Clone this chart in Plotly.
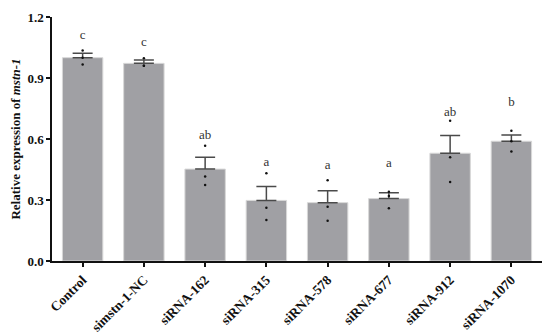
import plotly.graph_objects as go

categories = ["Control", "simstn-1-NC", "siRNA-162", "siRNA-315", "siRNA-578", "siRNA-677", "siRNA-912", "siRNA-1070"]
means = [1.0, 0.972, 0.452, 0.298, 0.287, 0.307, 0.53, 0.589]
sem = [0.022, 0.017, 0.058, 0.069, 0.059, 0.029, 0.087, 0.031]
replicates = [
    [1.035, 1.0, 0.967],
    [0.997, 0.96, 0.96],
    [0.567, 0.415, 0.374],
    [0.431, 0.262, 0.202],
    [0.397, 0.267, 0.198],
    [0.341, 0.259, 0.32],
    [0.69, 0.51, 0.389],
    [0.641, 0.589, 0.538],
]
letters = ["c", "c", "ab", "a", "a", "a", "ab", "b"]
letter_y = [1.107, 1.074, 0.615, 0.484, 0.467, 0.476, 0.73, 0.78]
y_ticks = [0.0, 0.3, 0.6, 0.9, 1.2]

FONT = "Liberation Serif, Times New Roman, serif"

fig = go.Figure()
fig.add_trace(go.Bar(
    x=categories, y=means,
    marker=dict(color="#a0a0a4", line=dict(color="#d8d8d8", width=1)),
    width=0.66,
    error_y=dict(type="data", array=sem, arrayminus=[0]*len(sem), symmetric=False,
                 color="#4a4a4a", thickness=1.5, width=10),
    showlegend=False, hoverinfo="skip",
))
dx, dy = [], []
for c, reps in zip(categories, replicates):
    for r in reps:
        dx.append(c)
        dy.append(r)
fig.add_trace(go.Scatter(x=dx, y=dy, mode="markers", hoverinfo="skip",
                         marker=dict(color="#111111", size=2.5), showlegend=False))
fig.add_trace(go.Scatter(x=categories, y=letter_y, mode="text", text=letters, hoverinfo="skip",
                         textfont=dict(family=FONT, size=13, color="#333333"),
                         textposition="middle center", showlegend=False))

fig.update_layout(
    width=550, height=333,
    margin=dict(l=52, r=8, t=17, b=72),
    plot_bgcolor="white", paper_bgcolor="white",
    font=dict(family=FONT, color="#111111"),
)
fig.update_xaxes(
    range=[-0.5, 7.5], showline=True, linecolor="#111111", linewidth=1.5,
    ticks="outside", ticklen=4, tickwidth=1.5, tickcolor="#111111",
    tickangle=-45, tickfont=dict(family=FONT, size=13.5, color="#111111"),
    tickvals=categories, ticktext=["<b>%s</b>" % c for c in categories],
    showgrid=False, zeroline=False, automargin=False,
)
fig.update_yaxes(
    range=[0, 1.2], showline=True, linecolor="#111111", linewidth=1.5,
    ticks="outside", ticklen=4, tickwidth=1.5, tickcolor="#111111",
    tickvals=y_ticks, ticktext=["<b>%.1f</b>" % v for v in y_ticks],
    tickfont=dict(family=FONT, size=13, color="#111111"),
    showgrid=False, zeroline=False, automargin=False,
    title=dict(text="<b>Relative expression of <i>mstn-1</i></b>",
               font=dict(family=FONT, size=13, color="#111111"), standoff=4),
)

fig.write_html("out.html", config={"displayModeBar": False},
               post_script="document.body.style.margin='0';document.body.style.overflow='hidden';")
